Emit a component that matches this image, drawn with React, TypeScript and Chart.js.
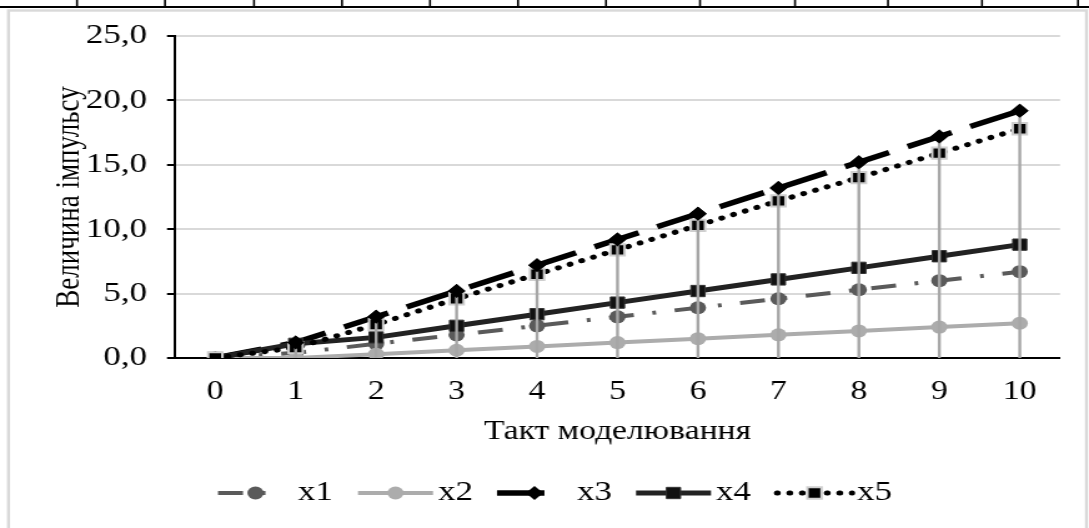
import React, { useEffect, useRef } from 'react';
import { Chart, registerables } from 'chart.js';

Chart.register(...registerables);

// ---------- data ----------
const categories = ['0', '1', '2', '3', '4', '5', '6', '7', '8', '9', '10'];
const x1 = [0, 0.4, 1.1, 1.8, 2.5, 3.2, 3.9, 4.6, 5.3, 6.0, 6.7];
const x2 = [0, 0, 0.3, 0.6, 0.9, 1.2, 1.5, 1.8, 2.1, 2.4, 2.7];
const x3 = [0, 1.2, 3.2, 5.2, 7.2, 9.2, 11.2, 13.2, 15.2, 17.2, 19.2];
const x4 = [0, 1.1, 1.6, 2.5, 3.4, 4.3, 5.2, 6.1, 7.0, 7.9, 8.8];
const x5 = [0, 0.8, 2.6, 4.6, 6.5, 8.4, 10.3, 12.2, 14.0, 15.9, 17.8];
const seriesNames = ['x1', 'x2', 'x3', 'x4', 'x5'];
const yMin = 0;
const yMax = 25;
const yStep = 5;
const xTitle = 'Такт моделювання';
const yTitle = 'Величина імпульсу';

// ---------- layout (reference is horizontally stretched) ----------
const W = 872;
const H = 528;
const S = 1089 / W;
const L = (px: number) => px / S;
const FONT = "'Liberation Serif', 'Times New Roman', serif";

const tableCols = [77, 165, 254, 342, 430, 518, 606, 700, 795, 888, 982, 1078];
const legendStarts = [218, 358, 497, 636, 777];
const legendLineLen = [52, 75, 52, 75, 75];
const legendY = 493;

function drawMarker(ctx: CanvasRenderingContext2D, style: string, x: number, y: number, r: number, fill: string, stroke: string, bw: number) {
  ctx.beginPath();
  if (style === 'circle') {
    ctx.arc(x, y, r, 0, Math.PI * 2);
  } else if (style === 'rect') {
    const s = r * Math.SQRT1_2;
    ctx.rect(x - s, y - s, 2 * s, 2 * s);
  } else if (style === 'rectRot') {
    ctx.moveTo(x, y - r);
    ctx.lineTo(x + r, y);
    ctx.lineTo(x, y + r);
    ctx.lineTo(x - r, y);
    ctx.closePath();
  }
  ctx.setLineDash([]);
  ctx.fillStyle = fill;
  ctx.fill();
  if (bw > 0) {
    ctx.lineWidth = bw;
    ctx.strokeStyle = stroke;
    ctx.stroke();
  }
}

const decorPlugin = {
  id: 'decor',
  beforeDraw(chart: any) {
    const ctx = chart.ctx as CanvasRenderingContext2D;
    ctx.save();
    ctx.fillStyle = '#fff';
    ctx.fillRect(0, 0, chart.width, chart.height);
    // outer frame
    ctx.strokeStyle = '#d9d9d9';
    ctx.lineWidth = 2.4;
    ctx.strokeRect(L(8.5), 10.5, L(1086.5) - L(8.5), 600);
    // table row above
    ctx.fillStyle = '#000';
    ctx.fillRect(0, 6, chart.width, 2);
    tableCols.forEach((x) => ctx.fillRect(L(x) - 0.8, 0, 1.6, 7));
    ctx.restore();
  },
  afterDatasetsDraw(chart: any) {
    const ctx = chart.ctx as CanvasRenderingContext2D;
    const xs = chart.scales.x;
    const ys = chart.scales.y;
    const withLine: boolean[] = [];
    ctx.save();
    ctx.strokeStyle = '#a6a6a6';
    ctx.lineWidth = 2.4;
    ctx.setLineDash([]);
    categories.forEach((_, i) => {
      const vals = chart.data.datasets.map((d: any) => d.data[i] as number);
      const hi = Math.max(...vals);
      const lo = Math.min(...vals);
      withLine[i] = hi !== lo;
      if (hi === lo) return;
      const px = xs.getPixelForValue(i);
      ctx.beginPath();
      ctx.moveTo(px, ys.getPixelForValue(hi));
      ctx.lineTo(px, ys.getPixelForValue(Math.min(lo, 0)));
      ctx.stroke();
    });
    ctx.restore();
    // x3 diamonds on top of drop lines
    const meta = chart.getDatasetMeta(2);
    meta.data.forEach((el: any, i: number) => {
      if (withLine[i]) el.draw(ctx, chart.chartArea);
    });
  },
  afterDraw(chart: any) {
    const ctx = chart.ctx as CanvasRenderingContext2D;
    ctx.save();
    chart.data.datasets.forEach((d: any, i: number) => {
      const x0 = L(legendStarts[i]);
      const full = L(75);
      const len = L(legendLineLen[i]);
      ctx.beginPath();
      ctx.setLineDash(d.borderDash || []);
      ctx.lineCap = d.borderCapStyle || 'butt';
      ctx.lineWidth = d.borderWidth;
      ctx.strokeStyle = d.borderColor;
      ctx.moveTo(x0, legendY);
      ctx.lineTo(x0 + len, legendY);
      ctx.stroke();
      ctx.lineCap = 'butt';
      drawMarker(ctx, d.pointStyle, x0 + full / 2, legendY, d.pointRadius, d.pointBackgroundColor, d.pointBorderColor, d.pointBorderWidth);
      ctx.fillStyle = '#000';
      ctx.font = `28px ${FONT}`;
      ctx.textBaseline = 'middle';
      ctx.textAlign = 'left';
      ctx.fillText(seriesNames[i], x0 + L(80), legendY);
    });
    ctx.restore();
  },
};

export default function App() {
  const ref = useRef<HTMLCanvasElement>(null);
  useEffect(() => {
    if (!ref.current) return;
    const chart = new Chart(ref.current, {
      type: 'line',
      data: {
        labels: categories,
        datasets: [
          {
            label: seriesNames[0], data: x1, order: 5,
            borderColor: '#5a5a5a', backgroundColor: '#5a5a5a', borderWidth: 4, borderDash: [20, 15, 3, 15],
            pointStyle: 'circle', pointRadius: 6.5, pointBackgroundColor: '#5a5a5a', pointBorderColor: '#5a5a5a', pointBorderWidth: 0,
          },
          {
            label: seriesNames[1], data: x2, order: 4,
            borderColor: '#acacac', backgroundColor: '#acacac', borderWidth: 4,
            pointStyle: 'circle', pointRadius: 6.5, pointBackgroundColor: '#acacac', pointBorderColor: '#acacac', pointBorderWidth: 0,
          },
          {
            label: seriesNames[2], data: x3, order: 3,
            borderColor: '#000', backgroundColor: '#000', borderWidth: 5.5, borderDash: [38, 16],
            pointStyle: 'rectRot', pointRadius: 7, pointBackgroundColor: '#000', pointBorderColor: '#000', pointBorderWidth: 0,
          },
          {
            label: seriesNames[3], data: x4, order: 2,
            borderColor: '#222', backgroundColor: '#222', borderWidth: 5,
            pointStyle: 'rect', pointRadius: 8, pointBackgroundColor: '#111', pointBorderColor: '#333', pointBorderWidth: 1,
          },
          {
            label: seriesNames[4], data: x5, order: 1,
            borderColor: '#000', backgroundColor: '#000', borderWidth: 5, borderDash: [0.5, 9.5], borderCapStyle: 'round',
            pointStyle: 'rect', pointRadius: 8, pointBackgroundColor: '#000', pointBorderColor: '#cfcfcf', pointBorderWidth: 2,
          },
        ] as any,
      },
      options: {
        animation: false,
        responsive: true,
        maintainAspectRatio: false,
        events: [],
        layout: { padding: { left: 0, right: W - L(1060), top: 36, bottom: 0 } },
        plugins: { legend: { display: false }, tooltip: { enabled: false } },
        scales: {
          x: {
            type: 'category',
            offset: true,
            grid: { display: false },
            border: { display: true, color: '#000', width: 2 },
            ticks: { color: '#000', font: { family: FONT, size: 27 }, padding: 10, maxRotation: 0, autoSkip: false },
            title: { display: true, text: xTitle, color: '#000', font: { family: FONT, size: 27 }, padding: { top: 0, bottom: 80 } },
            afterFit(scale: any) { scale.height = H - 358; },
          },
          y: {
            min: yMin,
            max: yMax,
            ticks: {
              stepSize: yStep, color: '#000', font: { family: FONT, size: 28 }, padding: 16,
              callback: (v: any) => Number(v).toFixed(1).replace('.', ','),
            },
            grid: {
              color: (c: any) => (c.tick && c.tick.value === 0 ? 'rgba(0,0,0,0)' : '#d9d9d9'),
              lineWidth: 2, tickColor: '#000', tickLength: L(8), tickWidth: 2, drawTicks: true,
            },
            border: { display: true, color: '#000', width: 2 },
            title: { display: true, text: yTitle, color: '#000', font: { family: FONT, size: 27 }, padding: { top: 40, bottom: 0 } },
            afterFit(scale: any) { scale.width = L(175); },
          },
        },
      } as any,
      plugins: [decorPlugin],
    });
    return () => chart.destroy();
  }, []);

  return (
    <div style={{ position: 'fixed', left: 0, top: 0, width: 1089, height: H, overflow: 'hidden', background: '#fff' }}>
      <div style={{ position: 'absolute', left: 0, top: 0, width: W, height: H, transform: `scaleX(${S})`, transformOrigin: '0 0' }}>
        <canvas ref={ref} />
      </div>
    </div>
  );
}
